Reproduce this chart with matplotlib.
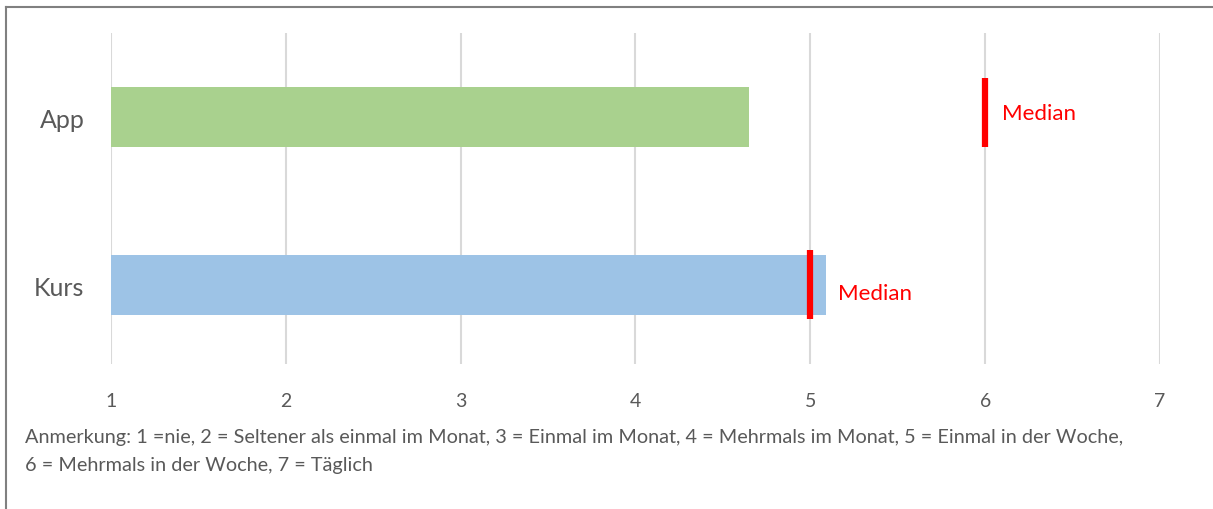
import matplotlib
matplotlib.use('Agg')
import matplotlib.pyplot as plt
from matplotlib.lines import Line2D

plt.rcParams['font.family'] = ['Lato', 'DejaVu Sans']

# data
categories = ['Kurs', 'App']
means = [5.09, 4.65]
medians = [5, 6]
bar_colors = ['#9DC3E6', '#A9D18E']
x_ticks = [1, 2, 3, 4, 5, 6, 7]
note = ('Anmerkung: 1 =nie, 2 = Seltener als einmal im Monat, 3 = Einmal im Monat, '
        '4 = Mehrmals im Monat, 5 = Einmal in der Woche,\n'
        '6 = Mehrmals in der Woche, 7 = Täglich')

# marker extents (below, above bar centre) and label offsets, per category
marker_span = [(0.202, 0.208), (0.179, 0.232)]
label_dx = [0.16, 0.097]
label_dy = [-0.048, 0.024]

fig = plt.figure(figsize=(12.13, 5.10), dpi=100)
ax = fig.add_axes([0.0915, 0.2843, 0.8648, 0.649])

y = list(range(len(categories)))
start = x_ticks[0]
ax.barh(y, [m - start for m in means], left=start, height=0.357,
        color=bar_colors, zorder=2)

# median markers
for yi, med, (lo, hi), dx, dy in zip(y, medians, marker_span, label_dx, label_dy):
    ax.plot([med, med], [yi - lo, yi + hi], color='#FF0000',
            linewidth=4.5, solid_capstyle='butt', zorder=3)
    ax.text(med + dx, yi + dy, 'Median', color='#FF0000', fontsize=16,
            va='center', ha='left')

for xt in x_ticks:
    ax.axvline(xt, color='#D9D9D9', linewidth=1.5, zorder=1)

ax.set_xlim(1, 7)
ax.set_ylim(-0.47, 1.5)
ax.set_xticks(x_ticks)
ax.set_yticks(y)
ax.set_yticklabels(categories, fontsize=18, color='#595959')
ax.tick_params(axis='x', length=0, pad=20, labelsize=14, labelcolor='#595959')
ax.tick_params(axis='y', length=0, pad=19)
for s in ax.spines.values():
    s.set_visible(False)

fig.text(25 / 1213, 1 - 451.5 / 510, note, fontsize=14.3, color='#595959',
         va='center', ha='left', linespacing=1.8)

# outer frame (top and left only visible)
fig.add_artist(Line2D([6 / 1213, 1], [1 - 8 / 510, 1 - 8 / 510], color='#808080',
                      linewidth=1.5, transform=fig.transFigure))
fig.add_artist(Line2D([6 / 1213, 6 / 1213], [0, 1 - 8 / 510], color='#808080',
                      linewidth=1.5, transform=fig.transFigure))

fig.savefig('out.png', dpi=100)
